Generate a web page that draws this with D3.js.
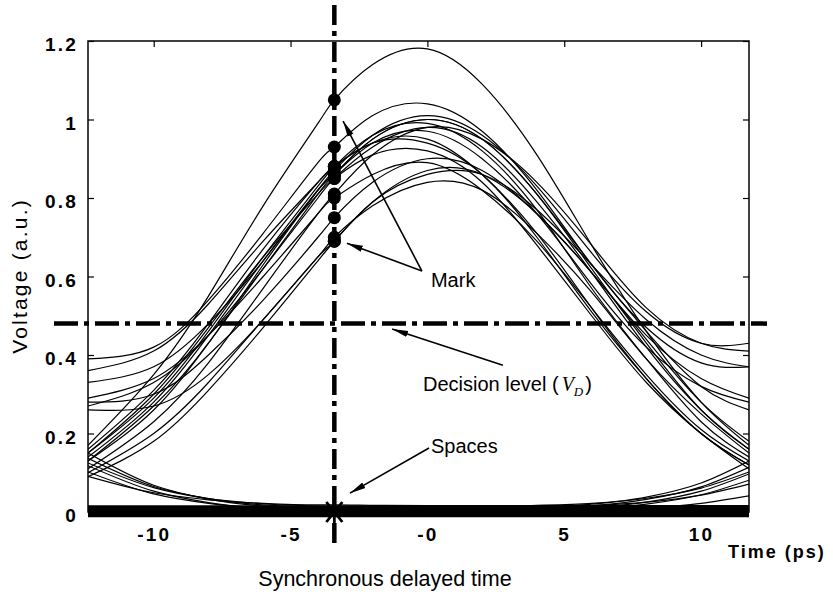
<!DOCTYPE html>
<html>
<head>
<meta charset="utf-8">
<script src="https://cdn.jsdelivr.net/npm/d3@7"></script>
<style>
  body { margin: 0; background: #fff; }
  text { font-family: "Liberation Sans", Arial, sans-serif; fill: #000; }
  .tick text { font-weight: bold; font-size: 19px; letter-spacing: 2.2px; }
  .tick line { stroke: #000; stroke-width: 1.2; }
</style>
</head>
<body>
<div id="chart"></div>
<script>
// Step 1: Data
//=================================
// sample times (ps), shared by every trace
var times = [-12.4, -10, -8, -6, -4, -3.4, -2, 0, 2, 4, 6, 8, 10, 11.75];
// index of the synchronous delayed time (-3.4 ps) in times
var sampleIndex = 5;

// "mark" pulses (voltage, a.u.)
var markTraces = [
  [0.17, 0.35, 0.55, 0.78, 0.99, 1.05, 1.14, 1.18, 1.09, 0.91, 0.68, 0.46, 0.28, 0.17],
  [0.39, 0.42, 0.54, 0.71, 0.89, 0.93, 1.01, 1.04, 0.97, 0.82, 0.63, 0.47, 0.38, 0.37],
  [0.13, 0.27, 0.43, 0.63, 0.82, 0.87, 0.96, 1.01, 0.96, 0.83, 0.66, 0.51, 0.43, 0.43],
  [0.33, 0.37, 0.48, 0.64, 0.82, 0.86, 0.95, 1.00, 0.95, 0.81, 0.62, 0.43, 0.26, 0.16],
  [0.15, 0.29, 0.46, 0.65, 0.83, 0.88, 0.96, 0.99, 0.92, 0.77, 0.57, 0.39, 0.23, 0.14],
  [0.11, 0.23, 0.38, 0.57, 0.76, 0.81, 0.91, 0.98, 0.95, 0.84, 0.68, 0.52, 0.43, 0.41],
  [0.27, 0.33, 0.45, 0.62, 0.80, 0.85, 0.93, 0.98, 0.93, 0.79, 0.61, 0.42, 0.26, 0.16],
  [0.14, 0.28, 0.45, 0.64, 0.82, 0.86, 0.94, 0.97, 0.90, 0.76, 0.58, 0.42, 0.32, 0.28],
  [0.36, 0.41, 0.53, 0.69, 0.84, 0.88, 0.94, 0.94, 0.86, 0.70, 0.51, 0.34, 0.20, 0.12],
  [0.15, 0.30, 0.47, 0.65, 0.81, 0.85, 0.91, 0.92, 0.84, 0.68, 0.50, 0.33, 0.20, 0.11],
  [0.28, 0.30, 0.40, 0.54, 0.70, 0.75, 0.84, 0.90, 0.87, 0.76, 0.61, 0.45, 0.34, 0.29],
  [0.09, 0.18, 0.31, 0.47, 0.64, 0.69, 0.79, 0.87, 0.86, 0.76, 0.61, 0.44, 0.28, 0.18],
  [0.26, 0.27, 0.35, 0.49, 0.65, 0.69, 0.79, 0.86, 0.86, 0.77, 0.63, 0.49, 0.40, 0.37],
  [0.10, 0.20, 0.33, 0.49, 0.65, 0.70, 0.78, 0.84, 0.82, 0.71, 0.56, 0.39, 0.25, 0.15],
  [0.29, 0.34, 0.45, 0.60, 0.76, 0.80, 0.86, 0.89, 0.82, 0.69, 0.52, 0.35, 0.21, 0.13],
  [0.13, 0.26, 0.43, 0.62, 0.81, 0.86, 0.95, 1.00, 0.95, 0.81, 0.63, 0.46, 0.32, 0.26],
  [0.16, 0.31, 0.48, 0.67, 0.84, 0.88, 0.94, 0.95, 0.86, 0.71, 0.52, 0.34, 0.20, 0.12]
];

// "space" traces (tails of neighbouring pulses)
var spaceTraces = [
  [0.150, 0.068, 0.033, 0.015, 0.008, 0.007, 0.005, 0.004, 0.004, 0.004, 0.004, 0.004, 0.004, 0.004],
  [0.137, 0.065, 0.034, 0.018, 0.012, 0.011, 0.009, 0.008, 0.009, 0.012, 0.020, 0.038, 0.074, 0.130],
  [0.125, 0.062, 0.034, 0.021, 0.015, 0.014, 0.013, 0.012, 0.012, 0.012, 0.012, 0.012, 0.012, 0.012],
  [0.102, 0.046, 0.022, 0.010, 0.005, 0.004, 0.003, 0.002, 0.003, 0.006, 0.011, 0.025, 0.053, 0.097],
  [0.091, 0.049, 0.031, 0.022, 0.018, 0.018, 0.017, 0.016, 0.016, 0.016, 0.016, 0.016, 0.016, 0.016],
  [0.006, 0.006, 0.006, 0.006, 0.006, 0.006, 0.006, 0.006, 0.007, 0.010, 0.016, 0.032, 0.064, 0.114],
  [0.010, 0.010, 0.010, 0.010, 0.010, 0.010, 0.010, 0.010, 0.011, 0.012, 0.016, 0.025, 0.043, 0.071],
  [0.000, 0.000, 0.000, 0.000, 0.000, 0.000, 0.000, 0.000, 0.001, 0.002, 0.004, 0.010, 0.022, 0.041],
  [0.118, 0.053, 0.024, 0.009, 0.004, 0.003, 0.001, 0.000, 0.001, 0.003, 0.008, 0.020, 0.044, 0.081],
  [0.014, 0.014, 0.014, 0.014, 0.014, 0.014, 0.014, 0.014, 0.015, 0.017, 0.022, 0.035, 0.061, 0.102]
];

// flat traces that make the thick band at 0
var zeroLevels = [-0.010, -0.006, -0.002, 0.002, 0.006, 0.010, 0.014];

var xTicks = [-10, -5, 0, 5, 10];
var xTickLabels = ["-10", "-5", "-0", "5", "10"];
var yTicks = [0, 0.2, 0.4, 0.6, 0.8, 1, 1.2];

var decisionTime = -3.4;   // ps
var decisionLevel = 0.48;  // V_D

// Step 2: Set up the chart
//=================================
var svg_width = 833;
var svg_height = 597;

var margin = { top: 41, right: 84, bottom: 85, left: 88 };
var width = svg_width - margin.left - margin.right;
var height = svg_height - margin.top - margin.bottom;

var svg = d3.select("#chart")
  .append("svg")
  .attr("width", svg_width)
  .attr("height", svg_height);

var chartGroup = svg.append("g")
  .attr("transform", `translate(${margin.left}, ${margin.top})`);

// clip a bit below the frame so the band at 0 keeps its thickness
svg.append("defs").append("clipPath")
  .attr("id", "plot-clip")
  .append("rect")
  .attr("y", -2)
  .attr("width", width)
  .attr("height", height + 10);

svg.select("defs").append("marker")
  .attr("id", "arrow")
  .attr("viewBox", "0 0 16 8")
  .attr("refX", 16)
  .attr("refY", 4)
  .attr("markerWidth", 16)
  .attr("markerHeight", 8)
  .attr("markerUnits", "userSpaceOnUse")
  .attr("orient", "auto")
  .append("path")
  .attr("d", "M0,0.8L16,4L0,7.2Z")
  .attr("fill", "#000");

// Step 3: Scales, traces and axes
//=================================
var xLinearScale = d3.scaleLinear().domain([-12.4, 11.75]).range([0, width]);
var yLinearScale = d3.scaleLinear().domain([0, 1.2]).range([height, 0]);

var line = d3.line()
  .x((d, i) => xLinearScale(times[i]))
  .y(d => yLinearScale(d));

var plot = chartGroup.append("g").attr("clip-path", "url(#plot-clip)");

plot.selectAll(".mark-trace")
  .data(markTraces)
  .enter()
  .append("path")
  .attr("class", "mark-trace")
  .attr("d", line.curve(d3.curveNatural))
  .attr("fill", "none")
  .attr("stroke", "#000")
  .attr("stroke-width", 1.2);

plot.selectAll(".space-trace")
  .data(spaceTraces)
  .enter()
  .append("path")
  .attr("class", "space-trace")
  .attr("d", line.curve(d3.curveMonotoneX))
  .attr("fill", "none")
  .attr("stroke", "#000")
  .attr("stroke-width", 1.2);

plot.selectAll(".zero-trace")
  .data(zeroLevels)
  .enter()
  .append("path")
  .attr("class", "zero-trace")
  .attr("d", v => line.curve(d3.curveLinear)(times.map(() => v)))
  .attr("fill", "none")
  .attr("stroke", "#000")
  .attr("stroke-width", 2.5);

// frame + ticks (ticks point inward)
chartGroup.append("rect")
  .attr("width", width)
  .attr("height", height)
  .attr("fill", "none")
  .attr("stroke", "#000")
  .attr("stroke-width", 1.5);

chartGroup.append("g")
  .call(d3.axisTop(xLinearScale).tickValues(xTicks).tickSizeInner(-6).tickSizeOuter(0).tickFormat(""))
  .call(g => g.select(".domain").remove());

chartGroup.append("g")
  .attr("transform", `translate(${width}, 0)`)
  .call(d3.axisRight(yLinearScale).tickValues(yTicks).tickSizeInner(-6).tickSizeOuter(0).tickFormat(""))
  .call(g => g.select(".domain").remove());

chartGroup.append("g")
  .call(d3.axisLeft(yLinearScale).tickValues(yTicks).tickSizeInner(-6).tickSizeOuter(0)
    .tickPadding(10).tickFormat(d => String(d)))
  .call(g => g.select(".domain").remove())
  .call(g => g.selectAll("text").attr("dy", "0.5em"));

chartGroup.append("g")
  .attr("transform", `translate(0, ${height})`)
  .call(d3.axisBottom(xLinearScale).tickValues(xTicks).tickSize(0).tickPadding(16)
    .tickFormat((d, i) => xTickLabels[i]))
  .call(g => g.select(".domain").remove());

// Step 4: Decision lines, samples and annotations
//=================================
var xD = xLinearScale(decisionTime);
var yD = yLinearScale(decisionLevel);
var y0 = yLinearScale(0);

chartGroup.append("line")
  .attr("x1", xD).attr("x2", xD)
  .attr("y1", -36).attr("y2", height + 36)
  .attr("stroke", "#000")
  .attr("stroke-width", 4.5)
  .attr("stroke-dasharray", "20,6,5,6");

chartGroup.append("line")
  .attr("x1", -34).attr("x2", width + 18)
  .attr("y1", yD).attr("y2", yD)
  .attr("stroke", "#000")
  .attr("stroke-width", 4.5)
  .attr("stroke-dasharray", "24,6,5,6");

// sampled mark voltages at the synchronous delayed time
chartGroup.selectAll(".sample-dot")
  .data(markTraces)
  .enter()
  .append("circle")
  .attr("class", "sample-dot")
  .attr("cx", xD)
  .attr("cy", d => yLinearScale(d[sampleIndex]))
  .attr("r", 6.5)
  .attr("fill", "#000");

// spaces sample (asterisk at 0)
var star = d3.path();
star.moveTo(xD, y0 - 13); star.lineTo(xD, y0 + 13);
star.moveTo(xD - 8, y0 - 10); star.lineTo(xD + 8, y0 + 10);
star.moveTo(xD + 8, y0 - 10); star.lineTo(xD - 8, y0 + 10);
star.moveTo(xD - 9, y0); star.lineTo(xD + 9, y0);
chartGroup.append("path")
  .attr("d", star.toString())
  .attr("stroke", "#000")
  .attr("stroke-width", 2.8);

var arrows = [
  { from: [-0.2, 0.614], to: [-3.08, 0.996] },
  { from: [-0.2, 0.614], to: [-2.94, 0.685] },
  { from: [2.76, 0.374], to: [-1.29, 0.466] },
  { from: [0.06, 0.163], to: [-2.83, 0.048] }
];

chartGroup.selectAll(".arrow")
  .data(arrows)
  .enter()
  .append("line")
  .attr("class", "arrow")
  .attr("x1", d => xLinearScale(d.from[0]))
  .attr("y1", d => yLinearScale(d.from[1]))
  .attr("x2", d => xLinearScale(d.to[0]))
  .attr("y2", d => yLinearScale(d.to[1]))
  .attr("stroke", "#000")
  .attr("stroke-width", 1.6)
  .attr("marker-end", "url(#arrow)");

chartGroup.append("text")
  .attr("x", xLinearScale(0.13))
  .attr("y", yLinearScale(0.573))
  .attr("font-size", 20)
  .text("Mark");

var dec = chartGroup.append("text")
  .attr("x", xLinearScale(-0.16))
  .attr("y", yLinearScale(0.308))
  .attr("font-size", 20);
dec.append("tspan").text("Decision level (");
dec.append("tspan")
  .attr("font-family", "'Liberation Serif', 'Times New Roman', serif")
  .attr("font-style", "italic")
  .attr("dx", 3)
  .text("V");
dec.append("tspan")
  .attr("font-family", "'Liberation Serif', 'Times New Roman', serif")
  .attr("font-style", "italic")
  .attr("font-size", 13)
  .attr("dy", 5)
  .text("D");
dec.append("tspan").attr("dy", -5).attr("dx", 2).text(")");

chartGroup.append("text")
  .attr("x", xLinearScale(0.13))
  .attr("y", yLinearScale(0.150))
  .attr("font-size", 20)
  .text("Spaces");

// axis titles
svg.append("text")
  .attr("transform", "translate(27, 276) rotate(-90)")
  .attr("text-anchor", "middle")
  .attr("font-size", 21)
  .attr("letter-spacing", "2.2px")
  .text("Voltage (a.u.)");

svg.append("text")
  .attr("x", 385)
  .attr("y", 586)
  .attr("text-anchor", "middle")
  .attr("font-size", 21.5)
  .text("Synchronous delayed time");

svg.append("text")
  .attr("x", 728)
  .attr("y", 558)
  .attr("font-size", 18)
  .attr("font-weight", "bold")
  .attr("letter-spacing", "2px")
  .text("Time (ps)");
</script>
</body>
</html>
